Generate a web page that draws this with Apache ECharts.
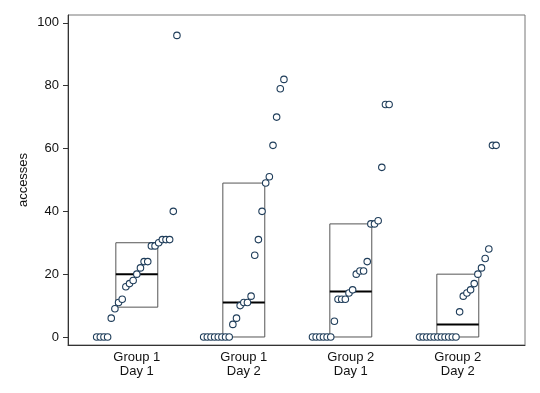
<!DOCTYPE html>
<html>
<head>
<meta charset="utf-8">
<script src="https://cdn.jsdelivr.net/npm/echarts@6/dist/echarts.min.js"></script>
<style>html,body{margin:0;padding:0;background:#fff}#c{width:540px;height:393px}</style>
</head>
<body>
<div id="c"></div>
<script>
var categories = ['Group 1\nDay 1', 'Group 1\nDay 2', 'Group 2\nDay 1', 'Group 2\nDay 2'];
var g1d1 = [0,0,0,0,6,9,11,12,16,17,18,20,22,24,24,29,29,30,31,31,31,40,96];
var g1d2 = [0,0,0,0,0,0,0,0,4,6,10,11,11,13,26,31,40,49,51,61,70,79,82];
var g2d1 = [0,0,0,0,0,0,5,12,12,12,14,15,20,21,21,24,36,36,37,54,74,74];
var g2d2 = [0,0,0,0,0,0,0,0,0,0,0,8,13,14,15,17,20,22,25,28,61,61];
var q1 = [9.5, 0, 0, 0];
var medians = [20, 11, 14.5, 4];
var q3 = [30, 49, 36, 20];
var yTicks = [0, 20, 40, 60, 80, 100];

var groups = [g1d1, g1d2, g2d1, g2d2];
var STEP = 0.0341;   // horizontal spacing between ranked points (axis units)
var HALF = 0.196;    // box half width (axis units)

var points = [];
groups.forEach(function (vals, gi) {
  var n = vals.length;
  vals.forEach(function (v, r) {
    points.push([gi + 1 + (r - (n - 1) / 2) * STEP, v]);
  });
});
var boxes = categories.map(function (c, i) { return [i + 1, q1[i], medians[i], q3[i]]; });

var chart = echarts.init(document.getElementById('c'), null, {renderer: 'canvas'});
var font = 'Liberation Sans, Arial, sans-serif';
chart.setOption({
  animation: false,
  backgroundColor: '#fff',
  grid: {left: 68, right: 15, top: 15, bottom: 48, show: true, borderColor: '#777', borderWidth: 1},
  xAxis: {
    type: 'value', min: 0.357, max: 4.628,
    axisLine: {show: true, onZero: false, lineStyle: {color: '#333', width: 1}},
    axisTick: {show: false},
    splitLine: {show: false},
    axisLabel: {
      customValues: [1, 2, 3, 4], margin: 5, color: '#111', fontSize: 13, fontFamily: font, lineHeight: 14,
      formatter: function (v) { return categories[Math.round(v) - 1] || ''; }
    }
  },
  yAxis: {
    type: 'value', min: -2.55, max: 102.5,
    name: 'accesses', nameLocation: 'middle', nameRotate: 90, nameGap: 38, nameMoveOverlap: false,
    nameTextStyle: {color: '#111', fontSize: 13, fontFamily: font},
    axisLine: {show: true, onZero: false, lineStyle: {color: '#333', width: 1}},
    axisTick: {show: true, customValues: yTicks, length: 5, lineStyle: {color: '#333'}},
    splitLine: {show: false},
    axisLabel: {customValues: yTicks, margin: 9, color: '#111', fontSize: 13, fontFamily: font}
  },
  series: [
    {
      type: 'custom', data: boxes, z: 2,
      renderItem: function (params, api) {
        var i = api.value(0);
        var tl = api.coord([i - HALF, api.value(3)]);
        var br = api.coord([i + HALF, api.value(1)]);
        var ml = api.coord([i - HALF, api.value(2)]);
        var mr = api.coord([i + HALF, api.value(2)]);
        return {type: 'group', children: [
          {type: 'rect', shape: {x: tl[0], y: tl[1], width: br[0] - tl[0], height: br[1] - tl[1]},
           style: {fill: 'none', stroke: '#555', lineWidth: 1}},
          {type: 'line', shape: {x1: ml[0], y1: ml[1], x2: mr[0], y2: mr[1]},
           style: {stroke: '#000', lineWidth: 2}}
        ]};
      }
    },
    {
      type: 'scatter', data: points, z: 3,
      symbol: 'circle', symbolSize: 6.5,
      itemStyle: {color: '#fff', borderColor: '#1f3d5a', borderWidth: 1.1, opacity: 1}
    }
  ]
});
</script>
</body>
</html>
